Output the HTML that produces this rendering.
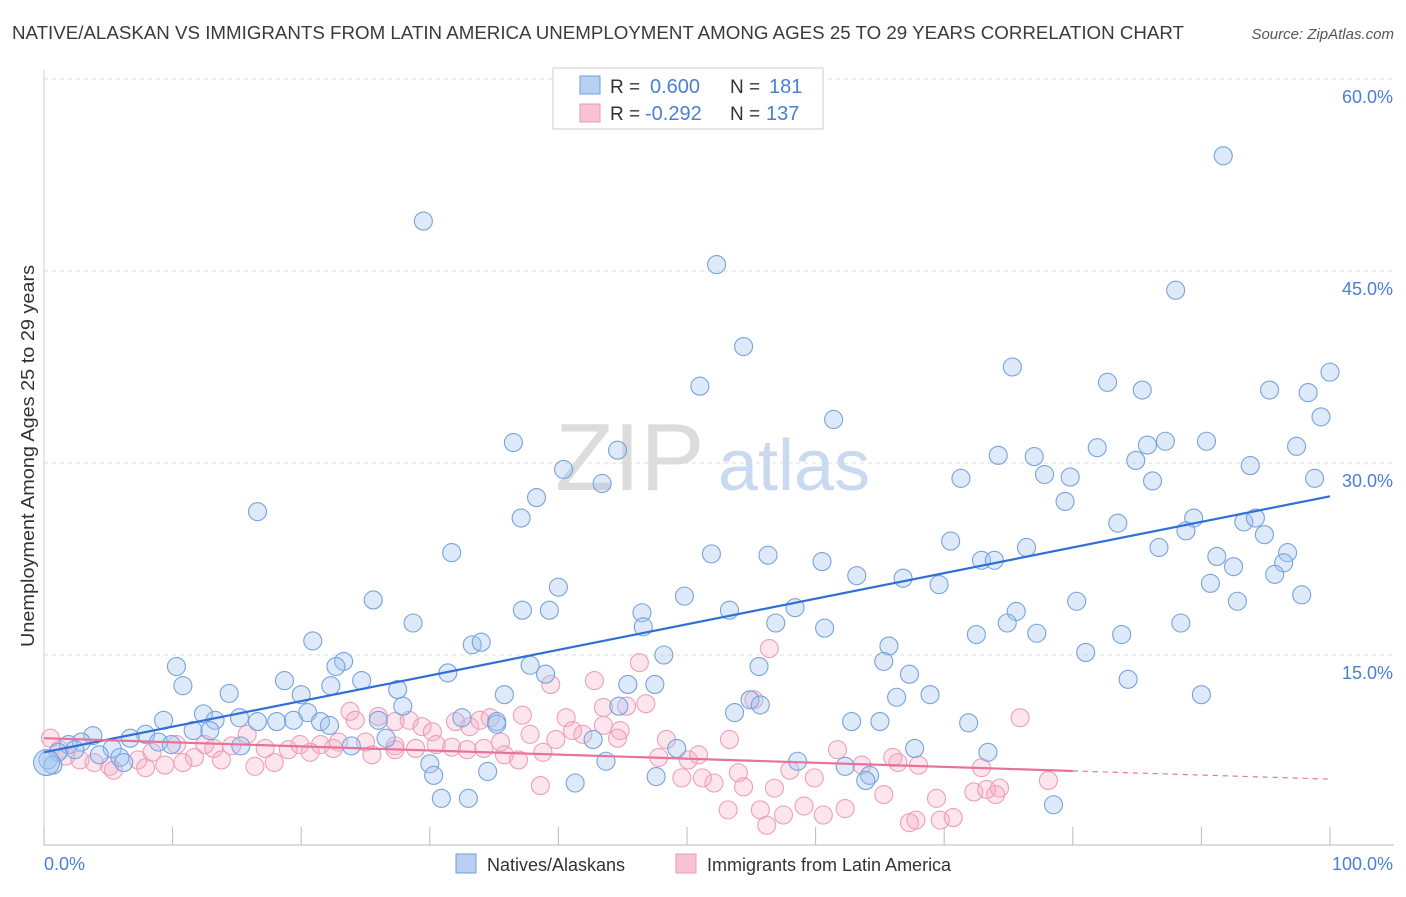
<!DOCTYPE html>
<html><head><meta charset="utf-8"><style>
body{margin:0;background:#fff;font-family:"Liberation Sans",sans-serif;}
svg text{font-family:"Liberation Sans",sans-serif;}
</style></head><body>
<svg id="chart" width="1406" height="892" xmlns="http://www.w3.org/2000/svg">
<text x="12" y="39" font-size="18" fill="#3a3a3a" textLength="1172" lengthAdjust="spacingAndGlyphs">NATIVE/ALASKAN VS IMMIGRANTS FROM LATIN AMERICA UNEMPLOYMENT AMONG AGES 25 TO 29 YEARS CORRELATION CHART</text>
<text x="1394" y="39" font-size="15" fill="#555" text-anchor="end" font-style="italic">Source: ZipAtlas.com</text>
<text x="555" y="490" font-size="96" fill="#dcdcdc" font-family="Liberation Serif, serif">ZIP</text>
<text x="718" y="490" font-size="72" fill="#c9d9ef">atlas</text>
<g id="grid"></g>
<g id="marks"></g>
<text transform="translate(34,456) rotate(-90)" font-size="18" fill="#333" text-anchor="middle" textLength="382" lengthAdjust="spacingAndGlyphs">Unemployment Among Ages 25 to 29 years</text>
<text x="44" y="870" font-size="18" fill="#4a7fd4">0.0%</text>
<text x="1393" y="870" font-size="18" fill="#4a7fd4" text-anchor="end">100.0%</text>
<g>
<rect x="553" y="68" width="270" height="61" fill="#fff" stroke="#ccc"/>
<rect x="580" y="76" width="20" height="18" fill="#b7d0f3" stroke="#6f9fdc"/>
<rect x="580" y="104" width="20" height="18" fill="#f8c4d4" stroke="#ec9ab5"/>
<text x="610" y="93" font-size="19" fill="#333">R = </text><text x="650" y="93" font-size="20" fill="#4a7fd4">0.600</text>
<text x="730" y="93" font-size="19" fill="#333">N = </text><text x="769" y="93" font-size="20" fill="#4a7fd4">181</text>
<text x="610" y="120" font-size="19" fill="#333">R = </text><text x="645" y="120" font-size="20" fill="#4a7fd4">-0.292</text>
<text x="730" y="120" font-size="19" fill="#333">N = </text><text x="766" y="120" font-size="20" fill="#4a7fd4">137</text>
</g>
<g>
<rect x="456" y="854" width="20" height="19" fill="#b7d0f3" stroke="#6f9fdc"/>
<text x="487" y="871" font-size="18" fill="#333">Natives/Alaskans</text>
<rect x="676" y="854" width="20" height="19" fill="#f8c4d4" stroke="#ec9ab5"/>
<text x="707" y="871" font-size="18" fill="#333">Immigrants from Latin America</text>
</g>
</svg>
<script>
const yTicks=[15,30,45,60];
const yTickLabels=["15.0%","30.0%","45.0%","60.0%"];
const xTicks=[0,10,20,30,40,50,60,70,80,90,100];
const blueX=[29.5,91.7,52.3,88.0,54.4,51.0,75.3,82.7,85.4,95.3,98.3,100,99.3,61.4,36.5,44.6,81.9,85.8,87.2,90.4,97.4,74.2,77.0,84.9,93.8,40.4,77.8,79.8,98.8,71.3,43.4,86.2,38.3,79.4,16.6,37.1,89.4,93.3,94.2,83.5,88.8,94.9,70.5,86.7,76.4,31.7,51.9,56.3,91.2,96.7,72.9,73.9,60.5,92.5,96.4,63.2,66.8,95.7,90.7,69.6,40.0,25.6,49.8,80.3,92.8,97.8,37.2,39.3,53.3,58.4,75.6,46.5,28.7,56.9,74.9,88.4,46.6,60.7,72.5,77.2,83.8,20.9,33.3,34.0,65.7,48.2,81.0,23.3,22.7,37.8,10.3,65.3,55.6,31.4,39.0,67.3,24.7,18.7,84.3,10.8,22.3,45.4,47.5,27.5,14.4,20.0,35.8,66.3,68.9,90.0,54.9,55.7,44.7,27.9,53.7,20.5,12.4,9.3,13.3,15.2,16.6,18.1,19.4,21.5,26.0,32.5,35.2,62.8,65.0,71.9,3.8,7.9,6.7,11.6,12.9,22.2,35.2,26.6,2.9,1.9,1.1,0.3,0.7,2.4,5.3,4.3,5.9,8.9,9.9,15.3,23.9,42.7,49.2,67.7,73.4,6.2,30.0,43.7,58.6,30.3,34.5,47.6,62.3,64.2,63.9,41.3,30.9,33.0,78.5];
const blueY=[48.9,54.0,45.5,43.5,39.1,36.0,37.5,36.3,35.7,35.7,35.5,37.1,33.6,33.4,31.6,31.0,31.2,31.4,31.7,31.7,31.3,30.6,30.5,30.2,29.8,29.5,29.1,28.9,28.8,28.8,28.4,28.6,27.3,27.0,26.2,25.7,25.7,25.4,25.7,25.3,24.7,24.4,23.9,23.4,23.4,23.0,22.9,22.8,22.7,23.0,22.4,22.4,22.3,21.9,22.2,21.2,21.0,21.3,20.6,20.5,20.3,19.3,19.6,19.2,19.2,19.7,18.5,18.5,18.5,18.7,18.4,18.3,17.5,17.5,17.5,17.5,17.2,17.1,16.6,16.7,16.6,16.1,15.8,16.0,15.7,15.0,15.2,14.5,14.1,14.2,14.1,14.5,14.1,13.6,13.5,13.5,13.0,13.0,13.1,12.6,12.6,12.7,12.7,12.3,12.0,11.9,11.9,11.7,11.9,11.9,11.5,11.1,11.0,11.0,10.5,10.5,10.4,9.9,9.9,10.1,9.8,9.8,9.9,9.8,9.9,10.1,9.8,9.8,9.8,9.7,8.7,8.8,8.5,9.1,9.1,9.5,9.6,8.5,8.2,8.0,7.4,6.8,6.4,7.6,7.7,7.2,7.0,8.2,8.0,7.9,7.9,8.4,7.7,7.7,7.4,6.6,6.5,6.7,6.7,5.6,5.9,5.5,6.3,5.6,5.2,5.0,3.8,3.8,3.3];
const pinkX=[23.8,24.2,26.0,27.3,28.4,29.4,30.2,32.0,33.1,33.9,34.7,37.2,40.6,41.1,42.8,43.5,45.3,46.8,46.3,39.4,56.4,55.2,75.9,43.5,44.8,41.9,44.6,37.8,35.5,31.7,32.9,28.9,27.3,25.0,22.9,21.5,19.9,19.0,17.2,15.8,14.6,13.2,12.5,11.7,10.3,8.4,7.3,5.1,3.9,2.8,1.7,0.5,1.2,5.4,7.9,9.4,10.8,13.8,16.4,17.9,20.7,22.5,25.5,27.3,30.5,34.2,35.8,36.9,38.8,47.8,48.4,50.1,50.9,53.3,49.6,51.2,52.1,54.0,54.4,56.8,58.0,59.9,61.7,63.6,66.0,66.4,68.0,65.3,59.1,55.7,53.2,56.2,57.5,60.6,62.3,67.3,67.8,69.7,70.7,69.4,72.3,72.9,73.3,74.0,74.3,78.1,38.6,39.8];
const pinkY=[10.6,9.9,10.2,9.8,9.9,9.4,9.0,9.8,9.4,9.9,10.1,10.3,10.1,9.1,13.0,10.9,11.0,11.2,14.4,12.7,15.5,11.5,10.1,9.5,9.1,8.8,8.5,8.8,8.2,7.8,7.6,7.7,7.9,8.2,8.2,8.0,8.0,7.6,7.7,8.8,7.9,7.7,8.0,7.0,8.0,7.4,6.8,6.3,6.6,6.8,7.1,8.5,7.6,6.0,6.2,6.4,6.6,6.8,6.3,6.6,7.4,7.7,7.2,7.6,8.0,7.7,7.2,6.8,7.4,7.0,8.4,6.8,7.2,8.4,5.4,5.4,5.0,5.8,4.7,4.6,6.0,5.4,7.6,6.4,7.0,6.6,6.4,4.1,3.2,2.9,2.9,1.7,2.5,2.5,3.0,1.9,2.1,2.1,2.3,3.8,4.3,6.2,4.5,4.1,4.6,5.2,4.8,8.4];
const blueTrend=[7.4,27.4];
const pinkTrend=[8.5,5.3];
const pinkSolidEnd=80;

const X0=44,X1=1330,Y0=847,YS=12.8;
const xs=v=>X0+(X1-X0)*v/100;
const ys=v=>Y0-v*YS;
const NS="http://www.w3.org/2000/svg";
function mk(tag,attrs,parent){const e=document.createElementNS(NS,tag);for(const k in attrs)e.setAttribute(k,attrs[k]);parent.appendChild(e);return e;}
const grid=document.getElementById('grid'),marks=document.getElementById('marks');
let ax=mk('line',{x1:44,y1:70,x2:44,y2:845,stroke:'#ccc'},grid);


let bx=mk('line',{x1:44,y1:845,x2:1394,y2:845,stroke:'#bbb'},grid);


yTicks.forEach((t,i)=>{
 const g=mk('line',{x1:44,x2:1394,y1:ys(t),y2:ys(t),stroke:'#ddd','stroke-dasharray':'4,4'},grid);
 
 
 const tx=mk('text',{x:1393,y:ys(t)+24,'font-size':18,fill:'#4a7fd4','text-anchor':'end'},grid);
 tx.textContent=yTickLabels[i];
 
 
});
xTicks.forEach(t=>{
 const l=mk('line',{x1:xs(t),x2:xs(t),y1:827,y2:845,stroke:'#bbb'},grid);
 
 
});
function pts(X,Y,fill,stroke,name){X.forEach((x,i)=>{
 const c=mk('circle',{cx:xs(x),cy:ys(Y[i]),r:9,fill:fill,stroke:stroke,'stroke-width':1.1},marks);
 
 
});}
pts(pinkX,pinkY,'rgba(245,170,195,0.3)','#ee9fb9','immigrant-point');
pts(blueX,blueY,'rgba(160,195,240,0.35)','#76a3de','native-point');
let big=mk('circle',{cx:xs(0.2),cy:ys(6.6),r:13,fill:'rgba(160,195,240,0.5)',stroke:'#6f9fdc'},marks);


let bt=mk('line',{x1:xs(0),y1:ys(blueTrend[0]),x2:xs(100),y2:ys(blueTrend[1]),stroke:'#2f6fd6','stroke-width':2.2},marks);


const pm=pinkTrend[0]+(pinkTrend[1]-pinkTrend[0])*pinkSolidEnd/100;
let pt=mk('line',{x1:xs(0),y1:ys(pinkTrend[0]),x2:xs(pinkSolidEnd),y2:ys(pm),stroke:'#e8729a','stroke-width':2.2},marks);


let pd=mk('line',{x1:xs(pinkSolidEnd),y1:ys(pm),x2:xs(100),y2:ys(pinkTrend[1]),stroke:'#e8729a','stroke-width':1.2,'stroke-dasharray':'5,5'},marks);


</script>
</body></html>
